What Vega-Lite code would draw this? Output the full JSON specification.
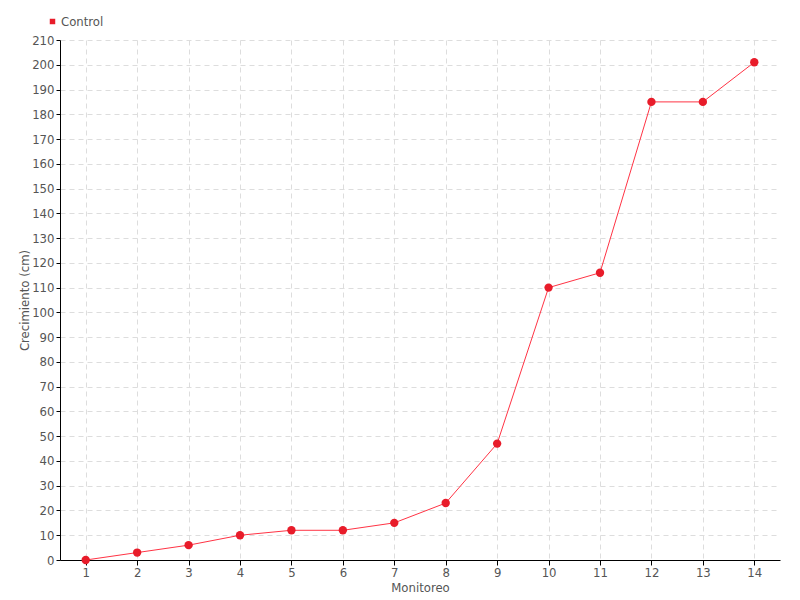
{
  "$schema": "https://vega.github.io/schema/vega-lite/v6.json",
  "autosize": {"type": "none"},
  "padding": {"left": 60, "top": 40, "right": 20, "bottom": 40},
  "width": 720,
  "height": 520,
  "background": "white",
  "config": {
    "view": {"stroke": null},
    "font": "DejaVu Sans Condensed",
    "axis": {
      "labelFont": "DejaVu Sans Condensed",
      "titleFont": "DejaVu Sans Condensed",
      "labelColor": "#555555",
      "titleColor": "#555555",
      "labelFontSize": 13,
      "titleFontSize": 13,
      "titleFontWeight": "normal",
      "domainColor": "#000000",
      "tickColor": "#000000",
      "gridColor": "#dddddd",
      "gridDash": [5, 4],
      "gridWidth": 1
    }
  },
  "data": {
    "values": [
      {"Monitoreo": "1", "Crecimiento": 0, "Serie": "Control"},
      {"Monitoreo": "2", "Crecimiento": 3, "Serie": "Control"},
      {"Monitoreo": "3", "Crecimiento": 6, "Serie": "Control"},
      {"Monitoreo": "4", "Crecimiento": 10, "Serie": "Control"},
      {"Monitoreo": "5", "Crecimiento": 12, "Serie": "Control"},
      {"Monitoreo": "6", "Crecimiento": 12, "Serie": "Control"},
      {"Monitoreo": "7", "Crecimiento": 15, "Serie": "Control"},
      {"Monitoreo": "8", "Crecimiento": 23, "Serie": "Control"},
      {"Monitoreo": "9", "Crecimiento": 47, "Serie": "Control"},
      {"Monitoreo": "10", "Crecimiento": 110, "Serie": "Control"},
      {"Monitoreo": "11", "Crecimiento": 116, "Serie": "Control"},
      {"Monitoreo": "12", "Crecimiento": 185, "Serie": "Control"},
      {"Monitoreo": "13", "Crecimiento": 185, "Serie": "Control"},
      {"Monitoreo": "14", "Crecimiento": 201, "Serie": "Control"}
    ]
  },
  "encoding": {
    "x": {
      "field": "Monitoreo",
      "type": "ordinal",
      "sort": null,
      "scale": {"type": "point", "padding": 0.5},
      "axis": {"title": "Monitoreo", "labelAngle": 0, "grid": true, "tickSize": 5, "labelPadding": 1, "titlePadding": 2}
    },
    "y": {
      "field": "Crecimiento",
      "type": "quantitative",
      "scale": {"domain": [0, 210], "nice": false},
      "axis": {"title": "Crecimiento (cm)", "values": [0,10,20,30,40,50,60,70,80,90,100,110,120,130,140,150,160,170,180,190,200,210], "tickSize": 4, "labelPadding": 2, "titlePadding": 0}
    }
  },
  "layer": [
    {
      "mark": {"type": "line", "color": "#ff3344", "strokeWidth": 1}
    },
    {
      "mark": {"type": "point", "filled": true, "size": 70, "opacity": 1},
      "encoding": {
        "color": {
          "field": "Serie",
          "type": "nominal",
          "scale": {"range": ["#e81c2a"]},
          "legend": {
            "title": null,
            "orient": "none",
            "legendX": -14,
            "legendY": -25,
            "symbolType": "square",
            "symbolSize": 30,
            "labelFont": "DejaVu Sans Condensed",
            "labelFontSize": 13,
            "labelColor": "#555555",
            "labelOffset": 2
          }
        }
      }
    }
  ]
}
